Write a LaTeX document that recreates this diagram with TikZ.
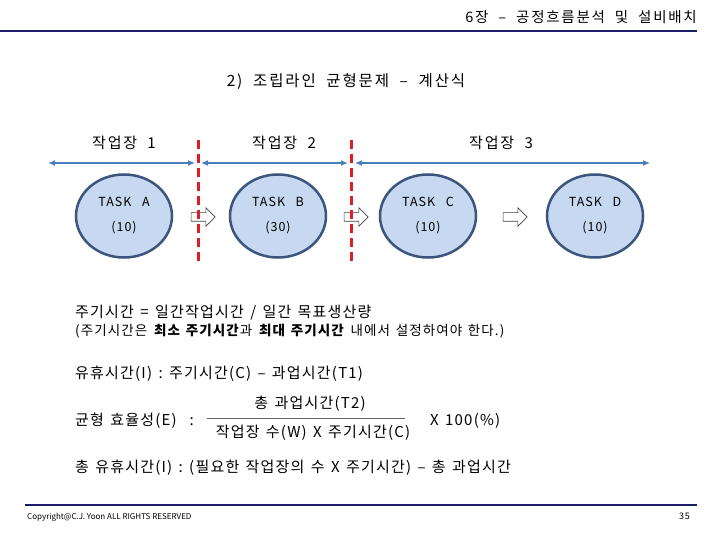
\documentclass[tikz,border=0pt]{standalone}
\usepackage{fontspec}
\setmainfont[LetterSpace=8,WordSpace=1.4]{Noto Sans CJK KR}
\newfontfamily\widefont[LetterSpace=12,WordSpace=2]{Noto Sans CJK KR}
\newfontfamily\plainfont{Noto Sans CJK KR}
\usepackage{xcolor}
\usetikzlibrary{arrows.meta,positioning,shapes.geometric,shapes.arrows}
\definecolor{navyline}{RGB}{28,28,105}
\definecolor{spanblue}{RGB}{74,126,187}
\definecolor{taskfill}{RGB}{198,217,241}
\definecolor{taskedge}{RGB}{60,85,125}
\definecolor{cutred}{RGB}{222,30,36}

\begin{document}
\begin{tikzpicture}[x=1pt,y=-1pt,>={Latex[length=7pt,width=6pt]},
    task/.style={ellipse,draw=taskedge,line width=2.5pt,fill=taskfill,minimum width=96pt,minimum height=83pt,font=\fontsize{12.5}{15}\selectfont},
    span/.style={<->,spanblue,line width=2pt},
    cut/.style={cutred,line width=3pt,dash pattern=on 9pt off 5pt},
    flow/.style={single arrow,draw=black!75,fill=white,line width=0.6pt,inner sep=0pt,text height=4pt,text depth=4pt,minimum height=24pt,single arrow head extend=5pt},
    wide/.style={font=\widefont\fontsize{#1}{17}\selectfont},
    txt/.style={anchor=west,inner sep=0pt,font=\fontsize{15}{17}\selectfont}]
    \useasboundingbox (0,0) rectangle (720,540);

    % 머리글
    \node[anchor=east,inner sep=0pt,wide=14.5] (chapter) at (697,17) {6장 – 공정흐름분석 및 설비배치};
    \coordinate (hl) at (0,31);
    \coordinate (hr) at (697,31);
    \draw[navyline,line width=2.5pt] (hl) -- (hr);

    \node[wide=15.5] (title) at (346,82) {2) 조립라인 균형문제 – 계산식};

    % 작업장 구간
    \node[wide=15] (ws1) at (124,143) {작업장 1};
    \node[wide=15] (ws2) at (284,143) {작업장 2};
    \node[wide=15] (ws3) at (501,143) {작업장 3};

    \coordinate (w0) at (48,163);
    \coordinate (w1l) at (195,163);
    \coordinate (w1r) at (201,163);
    \coordinate (w2l) at (348,163);
    \coordinate (w2r) at (355,163);
    \coordinate (w3) at (650,163);
    \draw[span] (w0) -- (w1l);
    \draw[span] (w1r) -- (w2l);
    \draw[span] (w2r) -- (w3);

    % 작업 요소
    \node[task] (taskA) at (124,216) {\raisebox{-5pt}{\begin{tabular}{@{}c@{}}TASK~~A\\[10pt](10)\end{tabular}}};
    \node[task] (taskB) at (278,216) {\raisebox{-5pt}{\begin{tabular}{@{}c@{}}TASK~~B\\[10pt](30)\end{tabular}}};
    \node[task] (taskC) at (428,216) {\raisebox{-5pt}{\begin{tabular}{@{}c@{}}TASK~~C\\[10pt](10)\end{tabular}}};
    \node[task] (taskD) at (595,216) {\raisebox{-5pt}{\begin{tabular}{@{}c@{}}TASK~~D\\[10pt](10)\end{tabular}}};

    \node[flow] (ab) at (201,217) {};
    \node[flow] (bc) at (354,217) {};
    \node[flow] (cd) at (513,217) {};

    % 작업장 경계
    \coordinate (c1t) at (198,140);
    \coordinate (c1b) at (198,264);
    \coordinate (c2t) at (351,140);
    \coordinate (c2b) at (351,264);
    \draw[cut] (c1t) -- (c1b);
    \draw[cut] (c2t) -- (c2b);

    % 계산식
    \node[txt] (cycle) at (75,313) {주기시간 = 일간작업시간 / 일간 목표생산량};
    \node[txt,font=\fontsize{13.5}{16}\selectfont] (range) at (75,331) {(주기시간은 \textbf{최소 주기시간}과 \textbf{최대 주기시간} 내에서 설정하여야 한다.)};
    \node[txt] (idle) at (75,374) {유휴시간(I) : 주기시간(C) – 과업시간(T1)};
    \node[txt] (eff) at (75,421) {균형 효율성(E) \ :};
    \node[font=\fontsize{15}{17}\selectfont,inner sep=0pt] (num) at (310,404) {총 과업시간(T2)};
    \node[font=\fontsize{15}{17}\selectfont,inner sep=0pt] (den) at (313,433) {작업장 수(W) X 주기시간(C)};
    \coordinate (barL) at (207,418);
    \coordinate (barR) at (405,418);
    \draw[black!60,line width=0.8pt] (barL) -- (barR);
    \node[txt] (pct) at (430,421) {X 100(\%)};
    \node[txt] (totidle) at (75,468) {총 유휴시간(I) : (필요한 작업장의 수 X 주기시간) – 총 과업시간};

    % 바닥글
    \coordinate (fl) at (25,505);
    \coordinate (fr) at (697,505);
    \draw[navyline,line width=2pt] (fl) -- (fr);
    \node[anchor=west,inner sep=0pt,font=\plainfont\fontsize{8}{9}\selectfont] (copy) at (27,517) {Copyright@C.J. Yoon ALL RIGHTS RESERVED};
    \node[anchor=east,inner sep=0pt,font=\fontsize{9}{11}\selectfont] (page) at (690,516) {35};
\end{tikzpicture}
\end{document}
